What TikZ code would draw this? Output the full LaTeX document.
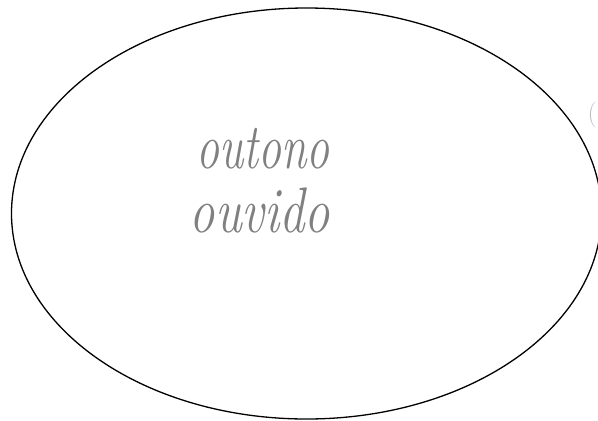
\documentclass[tikz,border=0pt]{standalone}
\usetikzlibrary{shapes.geometric, positioning}

\begin{document}
\begin{tikzpicture}[
    x=1pt, y=-1pt,
    set/.style={
      draw,
      ellipse,
      line width=1.3pt,
      minimum width=590pt,
      minimum height=411pt,
      inner sep=0pt
    },
    word/.style={
      text=black!50,
      font=\fontsize{46}{50}\selectfont\itshape,
      inner sep=0pt,
      anchor=base
    }
  ]

  \useasboundingbox (0,0) rectangle (598,421);

  % conjunto
  \node[set] (conj) at (306.5,213.5) {};

  % palavras
  \node[word] (outono) at (263,168) {\scalebox{1}[1.4]{outono}};
  \node[word] (ouvido) at (260,232) {\scalebox{1.1}[1.4]{ouvido}};

  % marca
  \node[text=black!25, font=\fontsize{26}{28}\selectfont, inner sep=0pt, anchor=east] (marca) at (597,115) {(};

\end{tikzpicture}
\end{document}
